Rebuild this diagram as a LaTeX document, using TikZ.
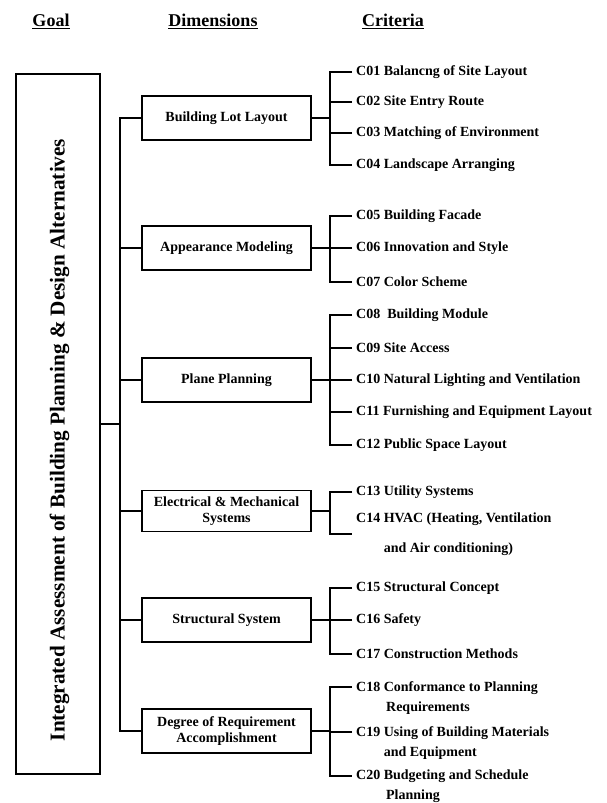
\documentclass[tikz,border=0pt]{standalone}
\usepackage{fontspec}
\setmainfont{Liberation Serif}
\begin{document}
\begin{tikzpicture}[x=1pt, y=-1pt, every node/.style={font=\bfseries}]
  \tikzstyle{head}=[anchor=base,font=\bfseries\fontsize{18}{21}\selectfont]
  \tikzstyle{dim}=[draw,line width=1.6pt,minimum width=169pt,minimum height=44pt,inner sep=0,align=center,font=\bfseries\fontsize{14}{16.5}\selectfont]
  \tikzstyle{crit}=[anchor=west,align=left,inner xsep=4pt,inner ysep=0,font=\bfseries\fontsize{14}{20}\selectfont]
  \tikzstyle{link}=[line width=1.4pt]
  \tikzstyle{stub}=[line width=2.8pt]
  \useasboundingbox (0,0) rectangle (607,803);
  % headings
  \node[head] (hgoal) at (51,27) {\underline{Goal}};
  \node[head] (hdim) at (213,27) {\underline{Dimensions}};
  \node[head] (hcrit) at (393,27) {\underline{Criteria}};
  % goal
  \node[draw,line width=1.6pt,minimum width=84pt,minimum height=700pt,inner sep=0] (goal) at (58,424) {};
  \node[rotate=90,font=\bfseries\fontsize{21.2}{24}\selectfont] (goaltext) at (59.5,440)
    {Integrated Assessment of Building Planning \& Design Alternatives};
  % dimensions
  \node[dim] (d1) at (226.5,118) {Building Lot Layout};
  \node[dim] (d2) at (226.5,248) {Appearance Modeling};
  \node[dim] (d3) at (226.5,380) {Plane Planning};
  \node[dim,minimum height=41pt] (d4) at (226.5,511) {Electrical \& Mechanical\\Systems};
  \node[dim] (d5) at (226.5,620) {Structural System};
  \node[dim] (d6) at (226.5,731) {Degree of Requirement\\Accomplishment};
  \coordinate (spine) at (120,0);
  \draw[stub] (goal.east) -- (goal.east -| spine);
  \draw[link] (d1.west) -- (d1.west -| spine) -- (d6.west -| spine) -- (d6.west);
  \foreach \d in {d2,d3,d4,d5} \draw[link] (\d.west) -- (\d.west -| spine);
  % criteria
  \node[crit] (c01) at (352,72) {C01 Balancng of Site Layout};
  \node[crit] (c02) at (352,102) {C02 Site Entry Route};
  \node[crit] (c03) at (352,133) {C03 Matching of Environment};
  \node[crit] (c04) at (352,165) {C04 Landscape Arranging};
  \node[crit] (c05) at (352,216) {C05 Building Facade};
  \node[crit] (c06) at (352,248) {C06 Innovation and Style};
  \node[crit] (c07) at (352,282) {C07 Color Scheme};
  \node[crit] (c08) at (352,315) {C08\ \ Building Module};
  \node[crit] (c09) at (352,348) {C09 Site Access};
  \node[crit] (c10) at (352,380) {C10 Natural Lighting and Ventilation};
  \node[crit] (c11) at (352,412) {C11 Furnishing and Equipment Layout};
  \node[crit] (c12) at (352,445) {C12 Public Space Layout};
  \node[crit] (c13) at (352,492) {C13 Utility Systems};
  \node[crit] (c14) at (352,534) {C14 HVAC (Heating, Ventilation\\[10pt]\phantom{C14 }and Air conditioning)};
  \node[crit] (c15) at (352,588) {C15 Structural Concept};
  \node[crit] (c16) at (352,620) {C16 Safety};
  \node[crit] (c17) at (352,654) {C17 Construction Methods};
  \node[crit,anchor=north west] (c18) at (352,681) {C18 Conformance to Planning\\\phantom{C18 }\,Requirements};
  \node[crit,anchor=north west] (c19) at (352,726) {C19 Using of Building Materials\\\phantom{C19 }and Equipment};
  \node[crit,anchor=north west] (c20) at (352,770) {C20 Budgeting and Schedule\\\phantom{C20 }\,Planning};
  \coordinate (cx) at (330,0);
  \foreach \d in {d1,d2,d3,d4,d5,d6} \draw[stub] (\d.east) -- (\d.east -| cx);
  \foreach \a/\b in {c01/c04,c05/c07,c08/c12,c13/c14,c15/c17}
    \draw[link] (\a.west) -- (\a.west -| cx) -- (\b.west -| cx) -- (\b.west);
  \foreach \c in {c02,c03,c06,c09,c10,c11,c16} \draw[link] (\c.west) -- (\c.west -| cx);
  \draw[link] ([yshift=-6pt]c18.north west) -- ([yshift=-6pt]c18.north west -| cx)
    -- ([yshift=-6pt]c20.north west -| cx) -- ([yshift=-6pt]c20.north west);
  \draw[link] ([yshift=-6pt]c19.north west) -- ([yshift=-6pt]c19.north west -| cx);
\end{tikzpicture}
\end{document}
